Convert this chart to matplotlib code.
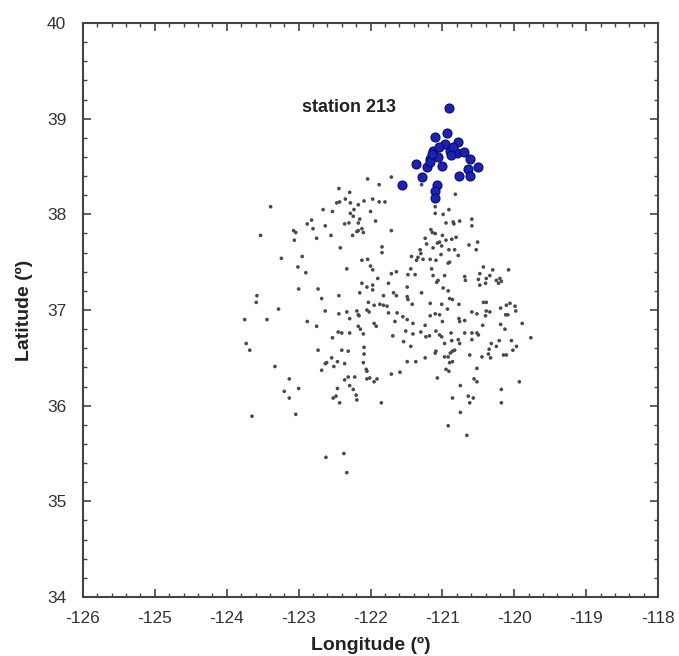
import numpy as np
import matplotlib.pyplot as plt

plt.rcParams['font.family'] = ['Liberation Sans', 'DejaVu Sans']
plt.rcParams['axes.unicode_minus'] = False

# Estaciones (grises): longitud, latitud
lon_all = [
    -122.04, -121.88, -122.44, -122.29, -123.39, -122.47, -122.43, -122.35, -122.28, -122.17,
    -122.09, -121.97, -121.88, -121.80, -122.66, -122.53, -122.23, -122.28, -122.00, -122.82,
    -122.88, -122.24, -122.15, -122.30, -122.36, -122.17, -121.93, -122.63, -122.80, -123.07,
    -123.04, -122.17, -122.12, -122.10, -122.19, -122.25, -123.53, -123.06, -122.75, -122.55,
    -122.42, -121.84, -121.84, -123.24, -122.95, -122.12, -122.04, -122.00, -121.97, -123.01,
    -122.90, -122.33, -121.90, -122.12, -122.05, -121.97, -121.97, -122.15, -123.00, -122.73,
    -123.58, -122.68, -122.44, -121.82,
    -121.71, -121.29, -120.82, -121.10, -121.10, -120.99, -120.91, -120.95, -120.85, -120.84,
    -120.76, -120.59, -120.59, -121.71, -121.16, -121.14, -121.10, -121.24, -121.00, -120.95,
    -120.87, -120.81, -121.04, -121.07, -121.22, -121.13, -121.01, -120.91, -120.83, -120.63,
    -120.51, -120.53, -121.31, -121.30, -121.34, -121.36, -121.27, -121.43, -121.17, -121.02,
    -121.09, -120.78, -120.92, -120.90, -120.43, -120.30, -120.08, -121.71, -121.64, -121.44,
    -121.48, -121.38, -121.15, -121.13, -120.97, -121.06, -121.08, -120.69, -120.68, -120.48,
    -120.50, -120.48, -120.39, -120.34, -120.40, -120.25, -120.20, -120.18, -120.22, -121.75,
    -121.49, -120.99, -120.92, -121.29, -121.68, -121.64, -121.49, -120.90,
    -123.59, -123.28, -122.63, -122.44, -122.33, -122.29, -122.19, -122.17, -122.16, -122.05,
    -122.02, -122.03, -121.95, -121.87, -121.82, -121.77, -121.75, -123.75, -123.44, -122.88,
    -122.75, -122.45, -122.40, -122.53, -122.29, -122.17, -122.14, -122.10, -121.95, -121.92,
    -123.73, -123.68, -122.73, -122.40, -122.31, -122.09, -122.09, -122.54, -122.61, -122.63,
    -122.46, -122.36, -122.51, -122.68, -122.10, -122.06, -122.05, -123.33, -123.13, -122.36,
    -122.31, -122.22, -122.05, -122.01, -121.95, -121.91, -122.29, -122.24, -122.20, -122.19,
    -122.46, -122.48, -122.52, -123.00, -123.20, -123.13, -122.43, -121.85, -123.65, -123.04,
    -121.48, -120.86, -120.77, -121.42, -121.17, -121.01, -120.93, -121.63, -121.55, -121.66,
    -121.49, -121.41, -121.17, -121.10, -121.04, -121.00, -121.24, -120.77, -120.76, -120.69,
    -120.59, -120.52, -120.43, -120.39, -120.39, -120.34, -120.40, -120.19, -120.11, -120.06,
    -119.99, -119.98, -120.12, -120.09, -119.89, -120.44, -120.19, -120.13, -121.69, -121.51,
    -121.41, -121.30, -121.23, -121.18, -121.09, -121.04, -121.01, -120.88, -120.69, -120.59,
    -120.52, -120.50, -120.59, -119.77, -121.54, -121.44, -120.97, -120.87, -120.78, -120.76,
    -120.32, -120.25, -120.21, -120.04, -119.97, -120.35, -120.36, -120.33, -120.02, -120.15,
    -120.11, -121.09, -121.10, -120.86, -120.83, -120.89, -120.97, -120.92, -120.62, -120.45,
    -121.49, -121.37, -121.24, -120.86, -120.90, -120.52, -120.95, -120.91, -121.71, -121.59,
    -121.07, -120.56, -120.52, -119.93, -120.75, -120.18, -120.86, -120.64, -120.57, -120.62,
    -120.18, -120.75, -120.92, -120.66,
    -122.62, -122.37, -122.33,
]
lat_all = [
    38.37, 38.31, 38.27, 38.23, 38.08, 38.12, 38.13, 38.16, 38.12, 38.10,
    38.14, 38.16, 38.13, 38.13, 38.05, 38.03, 38.05, 38.01, 38.03, 37.94,
    37.90, 37.98, 37.95, 37.91, 37.90, 37.91, 37.93, 37.88, 37.85, 37.83,
    37.81, 37.83, 37.85, 37.81, 37.82, 37.78, 37.78, 37.73, 37.75, 37.78,
    37.65, 37.66, 37.60, 37.54, 37.56, 37.52, 37.53, 37.46, 37.42, 37.45,
    37.39, 37.43, 37.33, 37.28, 37.24, 37.26, 37.21, 37.18, 37.22, 37.22,
    37.15, 37.12, 37.15, 37.15,
    38.39, 38.31, 38.21, 38.08, 38.01, 38.00, 38.05, 37.91, 37.92, 37.90,
    37.93, 37.95, 37.88, 37.83, 37.84, 37.81, 37.80, 37.75, 37.78, 37.73,
    37.74, 37.76, 37.71, 37.70, 37.69, 37.65, 37.67, 37.63, 37.63, 37.68,
    37.71, 37.63, 37.63, 37.59, 37.55, 37.52, 37.53, 37.56, 37.53, 37.58,
    37.52, 37.57, 37.49, 37.50, 37.45, 37.42, 37.42, 37.38, 37.40, 37.43,
    37.37, 37.37, 37.43, 37.36, 37.36, 37.31, 37.29, 37.35, 37.31, 37.38,
    37.32, 37.26, 37.33, 37.36, 37.28, 37.31, 37.33, 37.30, 37.28, 37.28,
    37.24, 37.23, 37.20, 37.18, 37.18, 37.15, 37.14, 37.12,
    37.08, 37.01, 36.99, 36.96, 36.98, 36.91, 36.99, 36.95, 36.94, 37.00,
    36.98, 37.08, 37.05, 37.06, 37.05, 37.04, 36.97, 36.90, 36.90, 36.88,
    36.83, 36.77, 36.76, 36.71, 36.76, 36.83, 36.80, 36.75, 36.86, 36.83,
    36.65, 36.58, 36.58, 36.58, 36.57, 36.61, 36.54, 36.50, 36.45, 36.44,
    36.46, 36.44, 36.41, 36.37, 36.45, 36.38, 36.36, 36.41, 36.28, 36.27,
    36.30, 36.30, 36.28, 36.29, 36.25, 36.28, 36.21, 36.17, 36.11, 36.06,
    36.18, 36.10, 36.08, 36.18, 36.15, 36.08, 36.03, 36.03, 35.89, 35.91,
    37.11, 37.11, 37.06, 37.06, 37.07, 37.06, 37.01, 36.97, 36.93, 36.88,
    36.90, 36.86, 36.94, 36.96, 36.95, 36.88, 36.84, 36.91, 36.88, 36.89,
    36.98, 36.96, 37.08, 37.08, 36.99, 36.98, 36.94, 37.02, 37.05, 37.07,
    37.04, 36.99, 36.95, 36.95, 36.86, 36.84, 36.85, 36.80, 36.73, 36.78,
    36.75, 36.77, 36.72, 36.73, 36.78, 36.74, 36.72, 36.76, 36.76, 36.76,
    36.76, 36.74, 36.69, 36.71, 36.67, 36.62, 36.65, 36.68, 36.69, 36.65,
    36.65, 36.62, 36.68, 36.68, 36.62, 36.59, 36.54, 36.50, 36.58, 36.53,
    36.53, 36.57, 36.55, 36.57, 36.58, 36.55, 36.51, 36.51, 36.53, 36.51,
    36.46, 36.46, 36.50, 36.46, 36.45, 36.39, 36.38, 36.36, 36.33, 36.35,
    36.29, 36.28, 36.25, 36.25, 36.21, 36.17, 36.08, 36.10, 36.08, 36.03,
    36.03, 35.93, 35.79, 35.69,
    35.46, 35.50, 35.30,
]

# Estaciones vecinas de la estación 213 (azules)
lon_near = [
    -120.91, -121.10, -120.94, -120.79, -120.97, -121.13, -120.90, -120.80, -120.70, -121.17,
    -121.06, -120.61, -121.37, -121.22, -121.17, -121.01, -120.65, -120.50, -121.28, -120.77,
    -120.61, -121.56, -121.07, -121.10, -121.10, -121.05, -120.85, -121.15, -120.88,
]
lat_near = [
    39.11, 38.81, 38.85, 38.76, 38.74, 38.66, 38.66, 38.64, 38.65, 38.58,
    38.60, 38.58, 38.53, 38.50, 38.55, 38.51, 38.47, 38.49, 38.39, 38.40,
    38.40, 38.31, 38.31, 38.24, 38.17, 38.70, 38.70, 38.63, 38.62,
]

fig = plt.figure(figsize=(6.79, 6.56), dpi=100)
ax = fig.add_axes([0.1222, 0.0899, 0.847, 0.875])

ax.scatter(lon_all, lat_all, s=7, color='#4a4a4a', edgecolors='none')
ax.scatter(lon_near, lat_near, s=42, color='#1a22b8', edgecolors='#0a0a70', linewidths=0.8)
ax.text(-122.95, 39.12, 'station 213', fontsize=13, fontweight='bold',
        va='center', ha='left', color='#222222')

ax.set_xlim(-126, -118)
ax.set_ylim(34, 40)
ax.set_xticks(np.arange(-126, -117, 1))
ax.set_yticks(np.arange(34, 41, 1))
ax.set_xticks(np.arange(-126, -117.9, 0.2), minor=True)
ax.set_yticks(np.arange(34, 40.01, 0.2), minor=True)
ax.tick_params(which='both', direction='in', top=True, right=True,
               color='#444444', labelsize=12.5, labelcolor='#333333')
ax.tick_params(which='major', length=6, width=1.2)
ax.tick_params(which='minor', length=3, width=1.0)
ax.tick_params(axis='x', pad=10)
ax.tick_params(axis='y', pad=12)
for sp in ax.spines.values():
    sp.set_color('#444444')
    sp.set_linewidth(1.5)

ax.set_xlabel('Longitude (º)', fontsize=14, fontweight='bold', color='#222222', labelpad=8)
ax.set_ylabel('Latitude (º)', fontsize=14, fontweight='bold', color='#222222', labelpad=10)

fig.savefig('out.png', dpi=100)
